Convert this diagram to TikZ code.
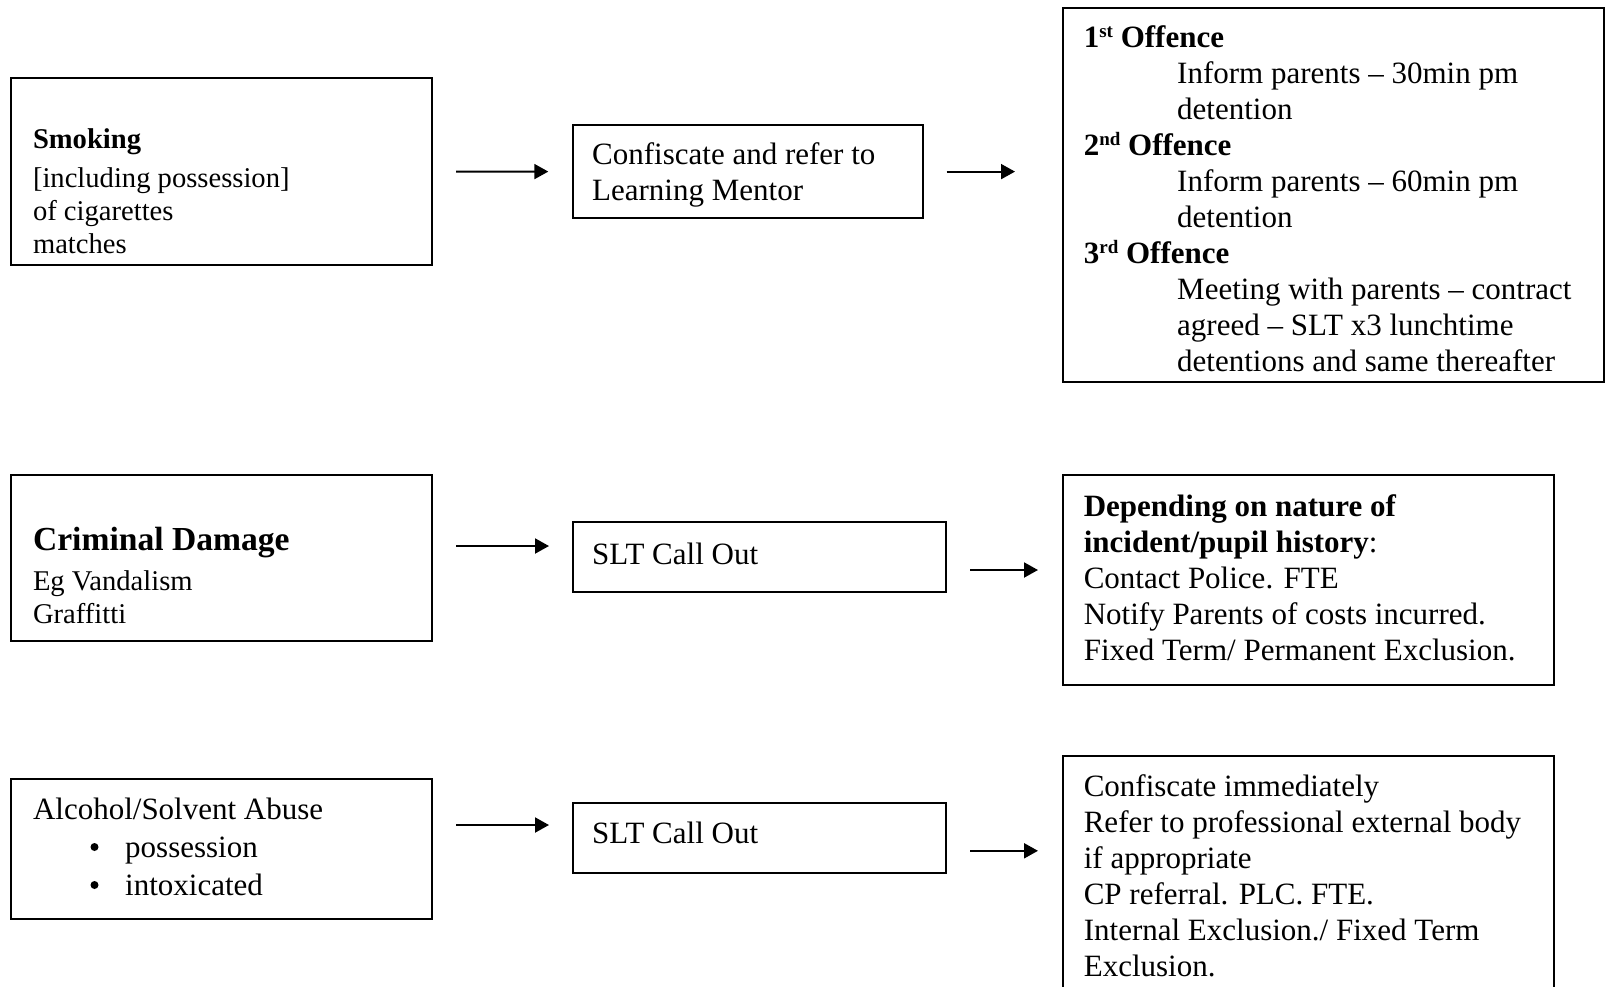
\documentclass[tikz,border=0pt]{standalone}
\usepackage{fontspec}
\setmainfont{Liberation Serif}
\usetikzlibrary{arrows.meta,calc}
\newcommand{\fn}{\fontsize{31}{36}\selectfont}
\newcommand{\fs}{\fontsize{28.6}{33}\selectfont}
\newcommand{\fl}{\fontsize{33.6}{40}\selectfont}
\newcommand{\supx}[1]{\raisebox{10pt}{\fontsize{19}{19}\selectfont\bfseries #1}}
\tikzset{
  box/.style={draw=black, line width=2pt, inner sep=0pt, rectangle},
  txt/.style={anchor=base west, inner sep=0pt, font=\fn},
  stxt/.style={anchor=base west, inner sep=0pt, font=\fs},
  bul/.style={circle, fill=black, inner sep=0pt, minimum size=8pt},
  arr/.style={line width=2pt, -{Triangle[length=14pt,width=15pt]}},
}
\begin{document}
\begin{tikzpicture}[x=1pt,y=-1pt]
\useasboundingbox (0,0) rectangle (1606,986);
\clip (0,0) rectangle (1606,986);
% row 1
\node[box, minimum width=421pt, minimum height=187.5pt] (b1) at (221.8,171.5) {};
\node[box, minimum width=350pt, minimum height=93.2pt] (b2) at (747.7,171.6) {};
\node[box, minimum width=541pt, minimum height=373.8pt] (b3) at (1333.8,195.1) {};
\node[stxt, font=\fs\bfseries] (t1a) at (32.8,148) {Smoking};
\node[stxt] (t1b) at (32.8,187.5) {[including possession]};
\node[stxt] (t1c) at (32.8,220.5) {of cigarettes};
\node[stxt] (t1d) at (32.8,253.5) {matches};
\node[txt] (t2a) at (592,164) {Confiscate and refer to};
\node[txt] (t2b) at (592,200) {Learning Mentor};
\node[txt, font=\fn\bfseries] (t3a) at (1083.6,47.5) {1\supx{st} Offence};
\node[txt] (t3b) at (1177,83.5) {Inform parents -- 30min pm};
\node[txt] (t3c) at (1177,119.5) {detention};
\node[txt, font=\fn\bfseries] (t3d) at (1083.6,155.5) {2\supx{nd} Offence};
\node[txt] (t3e) at (1177,191.5) {Inform parents -- 60min pm};
\node[txt] (t3f) at (1177,227.5) {detention};
\node[txt, font=\fn\bfseries] (t3g) at (1083.6,263.5) {3\supx{rd} Offence};
\node[txt] (t3h) at (1177,299.5) {Meeting with parents -- contract};
\node[txt] (t3i) at (1177,335.5) {agreed -- SLT x3 lunchtime};
\node[txt] (t3j) at (1177,371.5) {detentions and same thereafter};
\draw[arr, shorten <=22.7pt, shorten >=23.4pt] (b1.east) -- (b2.west);
\draw[arr, shorten <=23pt, shorten >=47.3pt] (b2.east) -- (b2.east -| b3.west);
% row 2
\node[box, minimum width=421pt, minimum height=166pt] (b4) at (221.8,558) {};
\node[box, minimum width=373.3pt, minimum height=70pt] (b5) at (759.35,557.3) {};
\node[box, minimum width=490.4pt, minimum height=210pt] (b6) at (1308.5,580) {};
\node[stxt, font=\fl\bfseries] (t4a) at (32.8,550.5) {Criminal Damage};
\node[stxt] (t4b) at (32.8,590.5) {Eg Vandalism};
\node[stxt] (t4c) at (32.8,623) {Graffitti};
\node[txt] (t5a) at (592,564) {SLT Call Out};
\node[txt] (t6a) at (1083.6,516.5) {\textbf{Depending on nature of}};
\node[txt] (t6b) at (1083.6,552.5) {\textbf{incident/pupil history}:};
\node[txt] (t6c) at (1083.6,588.5) {Contact Police. FTE};
\node[txt] (t6d) at (1083.6,624.5) {Notify Parents of costs incurred.};
\node[txt] (t6e) at (1083.6,660.5) {Fixed Term/ Permanent Exclusion.};
\draw[arr, shorten <=22.7pt, shorten >=22.7pt] ([yshift=12pt]b4.east) -- ([yshift=12pt]b4.east -| b5.west);
\draw[arr, shorten <=23.3pt, shorten >=24.3pt] ([yshift=-12.7pt]b5.east) -- ([yshift=-12.7pt]b5.east -| b6.west);
% row 3
\node[box, minimum width=421pt, minimum height=139.6pt] (b7) at (221.8,848.8) {};
\node[box, minimum width=373.3pt, minimum height=69.6pt] (b8) at (759.35,837.8) {};
\node[box, minimum width=490.4pt, minimum height=260pt] (b9) at (1308.5,886) {};
\node[txt] (t7a) at (32.8,819) {Alcohol/Solvent Abuse};
\node[bul] (t7b) at (94.5,847) {};
\node[txt] (t7c) at (125,857) {possession};
\node[bul] (t7d) at (94.5,885) {};
\node[txt] (t7e) at (125,895) {intoxicated};
\node[txt] (t8a) at (592,843.5) {SLT Call Out};
\node[txt] (t9a) at (1083.6,796) {Confiscate immediately};
\node[txt] (t9b) at (1083.6,832) {Refer to professional external body};
\node[txt] (t9c) at (1083.6,868) {if appropriate};
\node[txt] (t9d) at (1083.6,904) {CP referral. PLC. FTE.};
\node[txt] (t9e) at (1083.6,940) {Internal Exclusion./ Fixed Term};
\node[txt] (t9f) at (1083.6,976) {Exclusion.};
\draw[arr, shorten <=22.7pt, shorten >=22.7pt] ([yshift=23.8pt]b7.east) -- ([yshift=23.8pt]b7.east -| b8.west);
\draw[arr, shorten <=23.3pt, shorten >=24.3pt] ([yshift=-13pt]b8.east) -- ([yshift=-13pt]b8.east -| b9.west);
\end{tikzpicture}
\end{document}
